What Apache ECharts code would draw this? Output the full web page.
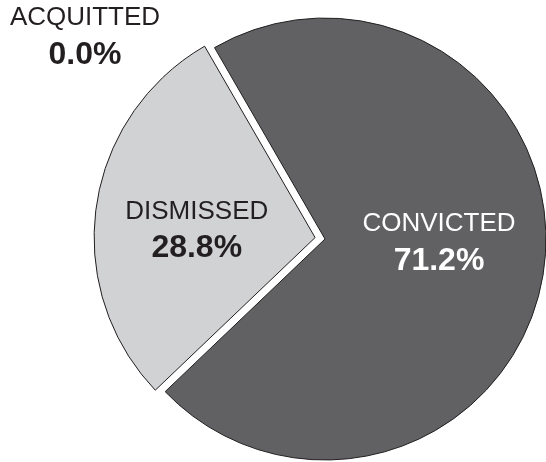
<!DOCTYPE html>
<html>
<head>
<meta charset="utf-8">
<script src="https://cdn.jsdelivr.net/npm/echarts@6/dist/echarts.min.js"></script>
<style>
html,body{margin:0;padding:0;background:#fff;}
#chart{width:546px;height:462px;}
</style>
</head>
<body>
<div id="chart"></div>
<script>
var categories = ['ACQUITTED', 'CONVICTED', 'DISMISSED'];
var values = [0.0, 71.2, 28.8];
var sliceColors = ['#d1d2d4', '#616163', '#d1d2d4'];
var labelColors = ['#231f20', '#ffffff', '#231f20'];
var explodedIndex = 2;
var labelSpots = {ACQUITTED: [85, 37], CONVICTED: [439, 243]};
var labelPads = {DISMISSED: [18, 12, 0, 0]};

var data = categories.map(function (c, i) {
  return {
    name: c,
    value: values[i],
    selected: i === explodedIndex,
    itemStyle: {
      color: sliceColors[i],
      borderColor: '#231f20',
      borderWidth: values[i] === 0 ? 0 : 1
    },
    label: {
      padding: labelPads[c] || 0,
      rich: {
        n: {fontSize: 26, color: labelColors[i], fontFamily: 'Liberation Sans', lineHeight: 36, align: 'center'},
        v: {fontSize: 32, fontWeight: 'bold', color: labelColors[i], fontFamily: 'Liberation Sans', lineHeight: 38, align: 'center'}
      }
    }
  };
});

var chart = echarts.init(document.getElementById('chart'), null, {renderer: 'canvas'});
chart.setOption({
  animation: false,
  backgroundColor: '#ffffff',
  series: [{
    type: 'pie',
    center: [325, 239],
    radius: 221,
    startAngle: 120,
    clockwise: true,
    selectedMode: 'single',
    selectedOffset: 10,
    avoidLabelOverlap: false,
    minAngle: 0,
    emphasis: {disabled: true, scale: false},
    labelLine: {show: false},
    label: {
      show: true,
      position: 'inside',
      formatter: function (p) {
        return '{n|' + p.name + '}\n{v|' + p.value.toFixed(1) + '%}';
      }
    },
    labelLayout: function (params) {
      var name = categories[params.dataIndex];
      var s = labelSpots[name];
      if (!s) { return {}; }
      return {x: s[0], y: s[1], align: 'center', verticalAlign: 'middle'};
    },
    data: data
  }]
});
</script>
</body>
</html>
